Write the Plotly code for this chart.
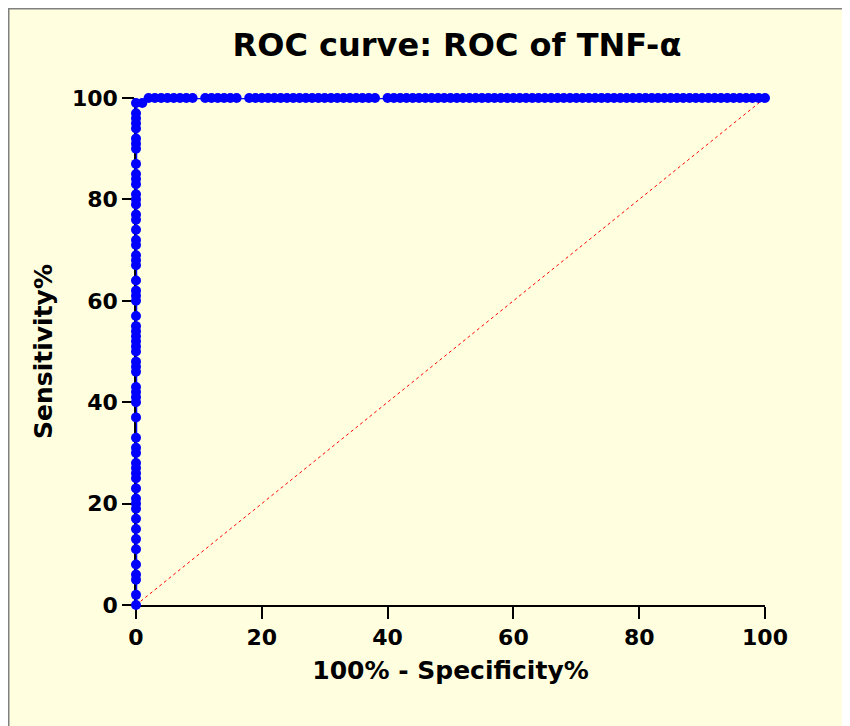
import plotly.graph_objects as go

# ROC curve points: (100% - Specificity%, Sensitivity%)
vertical_sens = [0, 2, 5, 6, 8, 11, 13, 15, 17, 19, 20, 21, 23, 25, 26, 27, 28, 30, 31, 33,
                 37, 40, 41, 42, 43, 46, 47, 48, 50, 51, 52, 53, 54, 55, 57, 60, 61, 62, 64,
                 67, 68, 69, 71, 72, 74, 76, 77, 79, 80, 81, 83, 84, 85, 87, 90, 91, 92, 94,
                 95, 96, 97, 99]
step_fpr = [1]
step_sens = [99]
top_fpr = ([2, 3, 4, 5, 6, 7, 8, 9] + [11, 12, 13, 14, 15, 16] +
           list(range(18, 39)) + list(range(40, 101)))

fpr = [0] * len(vertical_sens) + step_fpr + top_fpr
sens = vertical_sens + step_sens + [100] * len(top_fpr)

diag_x = [0, 100]
diag_y = [0, 100]

title_text = "ROC curve: ROC of TNF-α"
x_title = "100% - Specificity%"
y_title = "Sensitivity%"
tick_vals = [0, 20, 40, 60, 80, 100]

bg = "#FFFFE0"
font_family = "DejaVu Sans, Verdana, sans-serif"

# plot area in page pixels (the page adds an 8px body margin)
L, R, T, B = 128, 93, 90, 129
PW, PH = 850 - L - R, 726 - T - B

fig = go.Figure()
fig.add_trace(go.Scatter(x=diag_x, y=diag_y, mode="lines",
                         line=dict(color="red", width=1, dash="dot"),
                         hoverinfo="skip", showlegend=False, cliponaxis=False))
fig.add_trace(go.Scatter(x=fpr, y=sens, mode="lines+markers",
                         line=dict(color="#0000FF", width=2.5),
                         marker=dict(color="#0000FF", size=10),
                         showlegend=False, cliponaxis=False))

axis_common = dict(
    range=[0, 100], tickvals=tick_vals, showgrid=False, zeroline=False,
    showline=True, linecolor="black", linewidth=1.5, layer="below traces",
    ticks="outside", ticklen=12, tickwidth=1.5, tickcolor="black",
    tickfont=dict(family=font_family, size=22, color="black", weight="bold"),
)

fig.update_layout(
    width=850, height=726,
    paper_bgcolor=bg, plot_bgcolor=bg,
    margin=dict(l=L, r=R, t=T, b=B),
    title=dict(text=title_text, x=(457 - 8) / 850, xref="container", xanchor="center",
               y=1 - (45 - 8) / 726, yref="container", yanchor="middle",
               font=dict(family=font_family, size=32, color="black", weight="bold")),
    xaxis=dict(**axis_common,
               title=dict(text=x_title, standoff=12,
                          font=dict(family=font_family, size=25, color="black", weight="bold"))),
    yaxis=dict(**axis_common,
               title=dict(text=y_title, standoff=12,
                          font=dict(family=font_family, size=25, color="black", weight="bold"))),
    shapes=[dict(type="rect", xref="paper", yref="paper",
                 x0=(0.75 - L) / PW, x1=(838 - L) / PW,
                 y0=(T + PH - 730) / PH, y1=(T + PH - 0.75) / PH,
                 line=dict(color="#808080", width=1.5), fillcolor="rgba(0,0,0,0)",
                 layer="below")],
)

fig.write_html("out.html")
